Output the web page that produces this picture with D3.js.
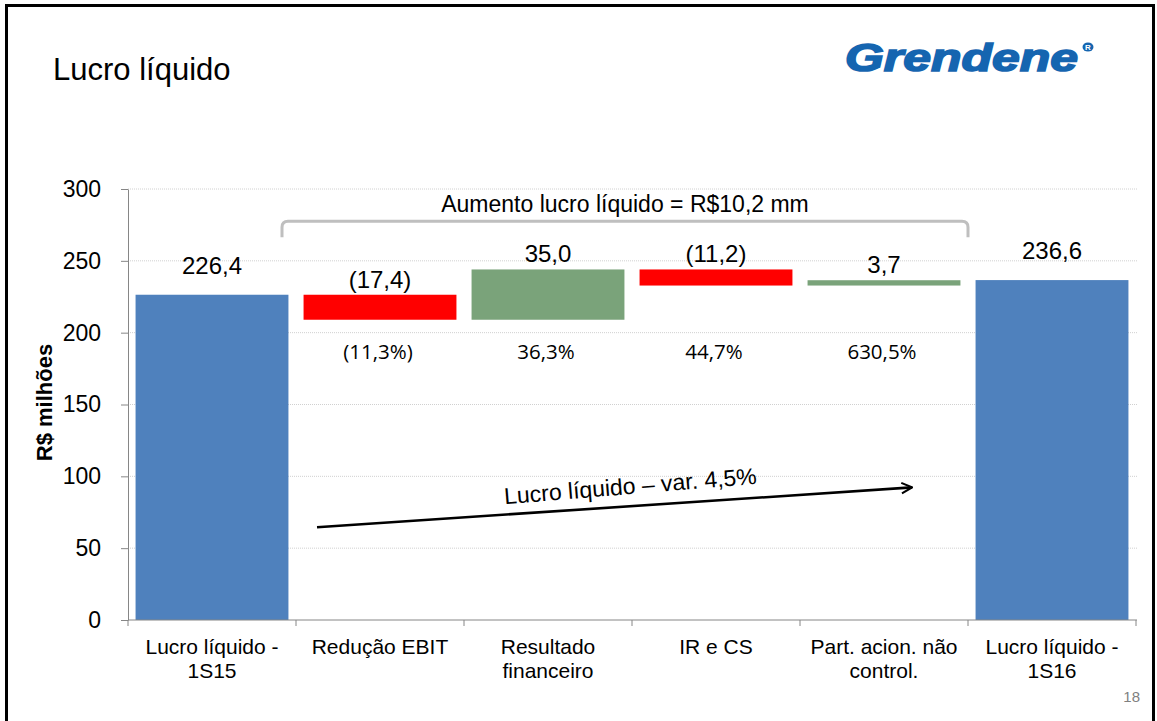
<!DOCTYPE html>
<html>
<head>
<meta charset="utf-8">
<script src="https://cdn.jsdelivr.net/npm/d3@7"></script>
<style>
    body { margin: 0; background: #fff; }
    svg { display: block; font-family: "Liberation Sans", Arial, sans-serif; }
</style>
</head>
<body>
<div class="slide"></div>
<script>
// chart data
let categories = [
    ["Lucro líquido -", "1S15"],
    ["Redução EBIT"],
    ["Resultado", "financeiro"],
    ["IR e CS"],
    ["Part. acion. não", "control."],
    ["Lucro líquido -", "1S16"]
]
let values = [226.4, -17.4, 35.0, -11.2, 3.7, 236.6]
let isTotal = [true, false, false, false, false, true]
let valueLabels = ["226,4", "(17,4)", "35,0", "(11,2)", "3,7", "236,6"]
let pctLabels = ["", "(11,3%)", "36,3%", "44,7%", "630,5%", ""]
let yTicks = [0, 50, 100, 150, 200, 250, 300]

let width = 1157,
    height = 721

let svg = d3.select(".slide")
    .append("svg")
    .attr("width", width)
    .attr("height", height)

// slide frame
svg.append("rect")
    .attr("x", 6.5).attr("y", 5.5)
    .attr("width", 1147).attr("height", 800)
    .attr("fill", "#fff")
    .attr("stroke", "#000")
    .attr("stroke-width", 3)

// title + logo
svg.append("text")
    .attr("x", 53).attr("y", 80)
    .style("font-size", "31px")
    .text("Lucro líquido")

svg.append("text")
    .attr("x", 845).attr("y", 71)
    .attr("textLength", 233)
    .attr("lengthAdjust", "spacingAndGlyphs")
    .style("font-size", "38px")
    .style("font-weight", "bold")
    .style("font-style", "italic")
    .attr("fill", "#1565B0")
    .attr("stroke", "#1565B0")
    .attr("stroke-width", 1.6)
    .text("Grendene")
svg.append("ellipse")
    .attr("cx", 1088).attr("cy", 47).attr("rx", 5.5).attr("ry", 4.5)
    .attr("fill", "#1565B0")
svg.append("text")
    .attr("x", 1088).attr("y", 50)
    .attr("text-anchor", "middle")
    .style("font-size", "8px").style("font-weight", "bold")
    .attr("fill", "#fff")
    .text("R")

// scales
let x = d3.scaleBand()
    .domain(d3.range(values.length))
    .range([128, 1136])
    .paddingInner(0.09)
    .paddingOuter(0.045)

let y = d3.scaleLinear()
    .domain([0, 300])
    .range([620, 189])

let boundary = function (i) { return 128 + i * x.step() }

// gridlines
svg.selectAll("line.grid")
    .data(yTicks.filter(function (d) { return d > 0 }))
    .enter()
    .append("line")
    .attr("class", "grid")
    .attr("x1", 128).attr("x2", 1137)
    .attr("y1", function (d) { return y(d) }).attr("y2", function (d) { return y(d) })
    .attr("stroke", "#d0d0d0")
    .attr("stroke-dasharray", "1,1")

// y axis
let yAxis = svg.append("g")
    .attr("transform", "translate(128,0)")
    .call(d3.axisLeft(y).tickValues(yTicks).tickSize(7).tickSizeOuter(0).tickPadding(20))
yAxis.select(".domain").attr("stroke", "#868686")
yAxis.selectAll(".tick line").attr("stroke", "#868686")
yAxis.selectAll(".tick text")
    .style("font-size", "23px")
    .style("font-family", "Liberation Sans, Arial, sans-serif")
    .attr("fill", "#000")

svg.append("text")
    .attr("transform", "translate(52," + (y(150) - 2) + ") rotate(-90)")
    .attr("text-anchor", "middle")
    .style("font-size", "22px")
    .style("font-weight", "bold")
    .text("R$ milhões")

// waterfall steps
let running = 0
let steps = values.map(function (v, i) {
    let lo, hi
    if (isTotal[i]) {
        lo = 0; hi = v; running = v
    } else {
        lo = Math.min(running, running + v)
        hi = Math.max(running, running + v)
        running = running + v
    }
    return { i: i, v: v, lo: lo, hi: hi }
})

let color = function (d) {
    if (isTotal[d.i]) return "#4F81BD"
    return d.v < 0 ? "#FF0000" : "#7AA37A"
}

svg.selectAll("rect.bar")
    .data(steps)
    .enter()
    .append("rect")
    .attr("class", "bar")
    .attr("x", function (d) { return x(d.i) })
    .attr("width", x.bandwidth())
    .attr("y", function (d) { return y(d.hi) })
    .attr("height", function (d) { return y(d.lo) - y(d.hi) })
    .attr("fill", color)

// value labels
svg.selectAll("text.val")
    .data(steps)
    .enter()
    .append("text")
    .attr("class", "val")
    .attr("x", function (d) { return x(d.i) + x.bandwidth() / 2 })
    .attr("y", function (d) { return y(d.hi) - (isTotal[d.i] ? 21 : 7) })
    .attr("text-anchor", "middle")
    .style("font-size", "24px")
    .text(function (d) { return valueLabels[d.i] })

// percent labels
svg.selectAll("text.pct")
    .data(steps.filter(function (d) { return pctLabels[d.i] !== "" }))
    .enter()
    .append("text")
    .attr("class", "pct")
    .attr("x", function (d) { return x(d.i) + x.bandwidth() / 2 - 2 })
    .attr("y", 359)
    .attr("text-anchor", "middle")
    .style("font-family", "'Open Sans', 'Noto Sans', sans-serif")
    .style("font-size", "20.5px")
    .text(function (d) { return pctLabels[d.i] })

// x axis
svg.append("line")
    .attr("x1", 128).attr("x2", 1137)
    .attr("y1", y(0)).attr("y2", y(0))
    .attr("stroke", "#868686")
svg.selectAll("line.xtick")
    .data(d3.range(values.length + 1))
    .enter()
    .append("line")
    .attr("class", "xtick")
    .attr("x1", boundary).attr("x2", boundary)
    .attr("y1", y(0)).attr("y2", y(0) + 6)
    .attr("stroke", "#868686")

let catText = svg.selectAll("text.cat")
    .data(categories)
    .enter()
    .append("text")
    .attr("class", "cat")
    .attr("text-anchor", "middle")
    .style("font-size", "21px")

catText.selectAll("tspan")
    .data(function (d, i) { return d.map(function (s) { return { s: s, i: i } }) })
    .enter()
    .append("tspan")
    .attr("x", function (d) { return boundary(d.i) + x.step() / 2 })
    .attr("y", function (d, j) { return 654 + j * 24 })
    .text(function (d) { return d.s })

// bracket over the variation bars
let bx0 = boundary(1) - 14,
    bx1 = boundary(5),
    byTop = y(277.5),
    byLeg = y(266.5),
    r = 6
svg.append("path")
    .attr("d", "M" + bx0 + "," + byLeg + " L" + bx0 + "," + (byTop + r) +
        " Q" + bx0 + "," + byTop + " " + (bx0 + r) + "," + byTop +
        " L" + (bx1 - r) + "," + byTop +
        " Q" + bx1 + "," + byTop + " " + bx1 + "," + (byTop + r) +
        " L" + bx1 + "," + byLeg)
    .attr("fill", "none")
    .attr("stroke", "#BFBFBF")
    .attr("stroke-width", 3)

svg.append("text")
    .attr("x", (bx0 + bx1) / 2)
    .attr("y", byTop - 9)
    .attr("text-anchor", "middle")
    .style("font-size", "23px")
    .text("Aumento lucro líquido = R$10,2 mm")

// trend arrow
svg.append("defs").append("marker")
    .attr("id", "head")
    .attr("viewBox", "0 0 10 10")
    .attr("refX", 9).attr("refY", 5)
    .attr("markerWidth", 5).attr("markerHeight", 5)
    .attr("orient", "auto")
    .append("path")
    .attr("d", "M1,1 L9,5 L1,9")
    .attr("fill", "none")
    .attr("stroke", "#000")
    .attr("stroke-width", 1.6)

let ax0 = boundary(1) + 21, ay0 = y(64.6),
    ax1 = boundary(5) - 56, ay1 = y(92.3)
svg.append("line")
    .attr("x1", ax0).attr("y1", ay0)
    .attr("x2", ax1).attr("y2", ay1)
    .attr("stroke", "#000")
    .attr("stroke-width", 2.6)
    .attr("marker-end", "url(#head)")

let ang = Math.atan2(ay1 - ay0, ax1 - ax0) * 180 / Math.PI
svg.append("text")
    .attr("transform", "translate(631," + 494 + ") rotate(" + (ang - 0.8) + ")")
    .attr("text-anchor", "middle")
    .style("font-size", "23px")
    .text("Lucro líquido – var. 4,5%")

// page number
svg.append("text")
    .attr("x", 1140).attr("y", 702)
    .attr("text-anchor", "end")
    .style("font-size", "15px")
    .attr("fill", "#808080")
    .text("18")
</script>
</body>
</html>
